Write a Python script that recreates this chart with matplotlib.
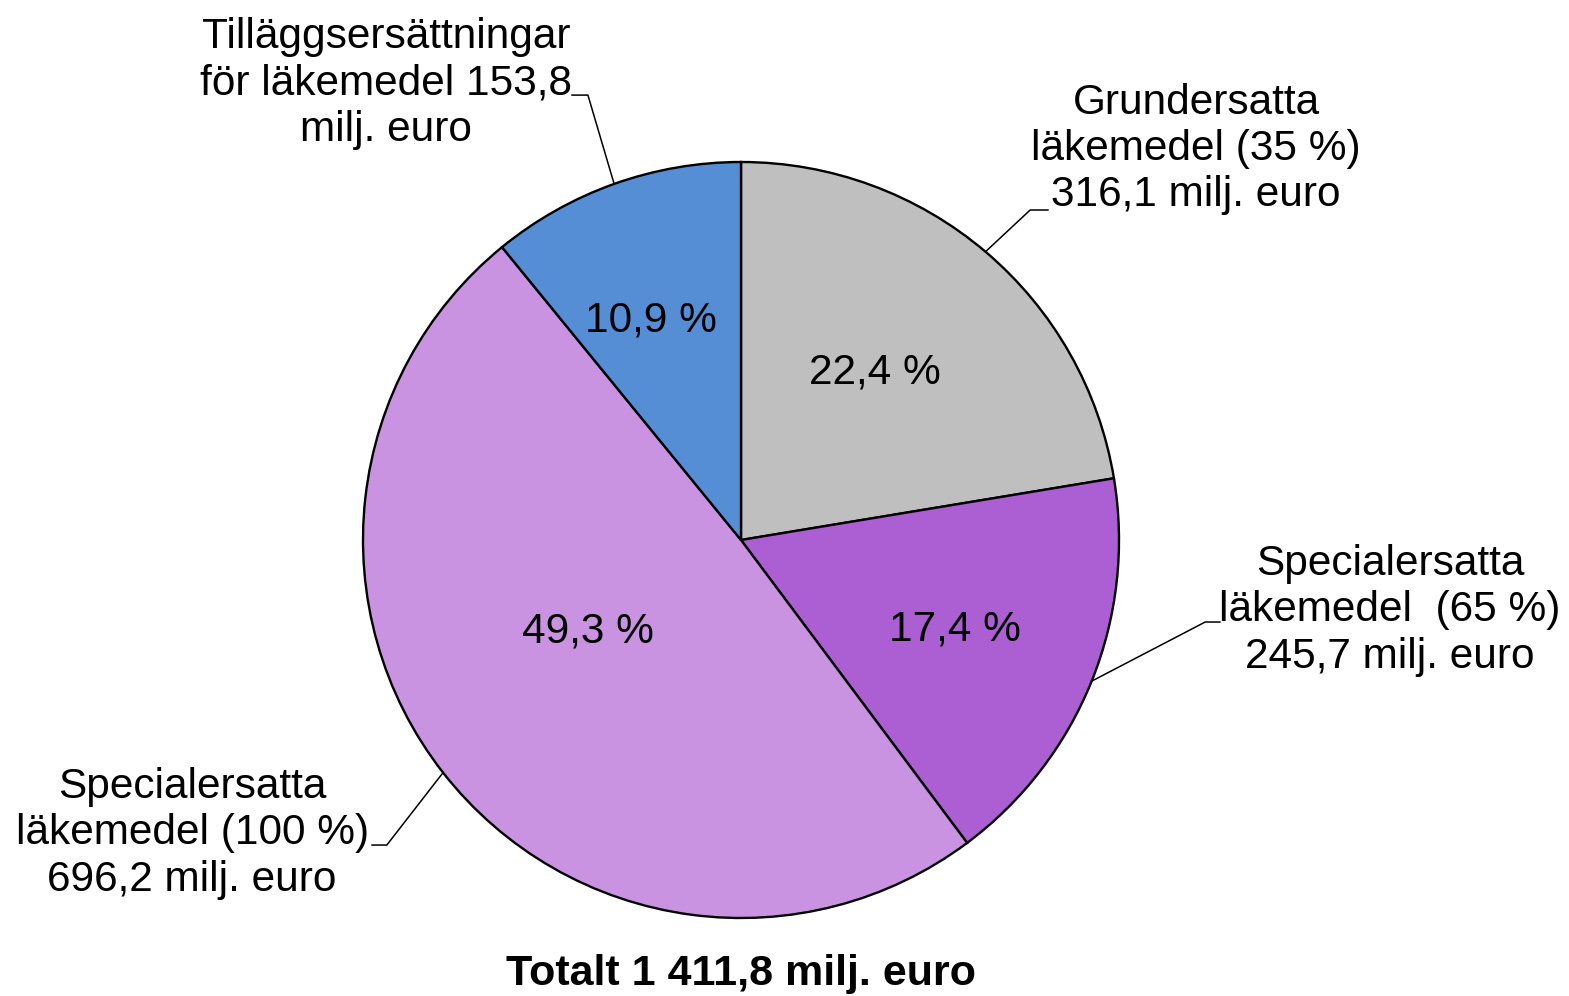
import numpy as np
import matplotlib
matplotlib.use("Agg")
import matplotlib.pyplot as plt

plt.rcParams['font.family'] = ['Liberation Sans', 'DejaVu Sans']

# Data (milj. euro), clockwise from top
categories = ["Grundersatta\nläkemedel (35 %)\n316,1 milj. euro",
              "Specialersatta\nläkemedel  (65 %)\n245,7 milj. euro",
              "Specialersatta\nläkemedel (100 %)\n696,2 milj. euro",
              "Tilläggsersättningar\nför läkemedel 153,8\nmilj. euro"]
values = [316.1, 245.7, 696.2, 153.8]
pct_labels = ["22,4 %", "17,4 %", "49,3 %", "10,9 %"]
colors = ["#BFBFBF", "#AB5FD3", "#C993E1", "#558ED5"]
total_label = "Totalt 1 411,8 milj. euro"

W, H = 1569, 996
fig = plt.figure(figsize=(W / 100, H / 100), dpi=100)
R = 378
cx, cy = 741, 540
ax = fig.add_axes([(cx - R) / W, (H - cy - R) / H, 2 * R / W, 2 * R / H])

wedges, _ = ax.pie(values, colors=colors, startangle=90, counterclock=False,
                   radius=1, wedgeprops=dict(edgecolor="black", linewidth=1.7))
ax.set_xlim(-1, 1)
ax.set_ylim(-1, 1)
ax.set_aspect("equal")
ax.axis("off")

fs = 30.5
# percentage labels positions (data units)
pct_pos = [(0.354, 0.442), (0.566, -0.236), (-0.405, -0.243), (-0.238, 0.582)]
for (x, y), t in zip(pct_pos, pct_labels):
    ax.text(x, y, t, ha="center", va="center", fontsize=fs, color="black")

# outside labels with leader lines
text_pos = [(1.204, 1.034), (1.717, -0.186), (-1.452, -0.776), (-0.939, 1.208)]
elbows = [((0.765, 0.873), (0.812, 0.873)),
          ((1.228, -0.217), (1.267, -0.217)),
          ((-0.937, -0.807), (-0.976, -0.807)),
          ((-0.405, 1.177), (-0.447, 1.177))]
for w, lab, (tx, ty), (e1, e2) in zip(wedges, categories, text_pos, elbows):
    ang = np.deg2rad((w.theta1 + w.theta2) / 2)
    px, py = np.cos(ang), np.sin(ang)
    ax.plot([px, e1[0], e2[0]], [py, e1[1], e2[1]], color="black", lw=1.1,
            clip_on=False)
    ax.text(tx, ty, lab, ha="center", va="center", fontsize=fs,
            linespacing=1.2, clip_on=False)

ax.text(0, -1.149, total_label, ha="center", va="center", fontsize=31,
        fontweight="bold", clip_on=False)

fig.savefig("out.png", dpi=100, facecolor="white")
